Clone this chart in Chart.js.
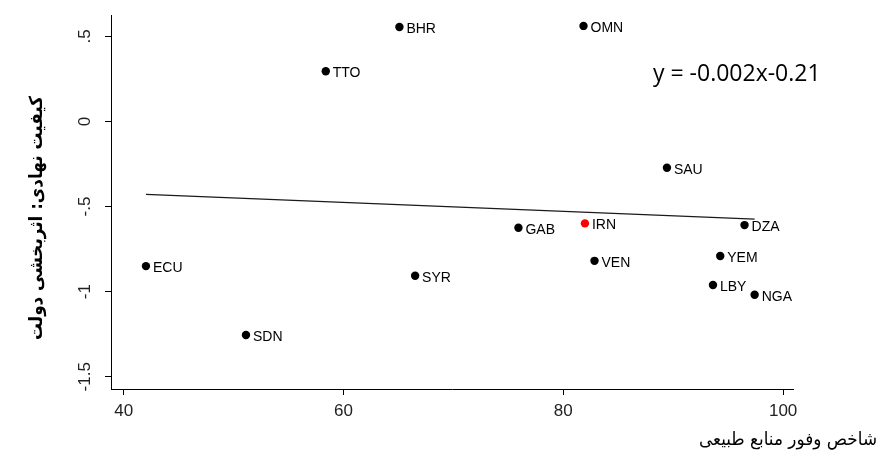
<!DOCTYPE html>
<html>
<head>
<meta charset="utf-8">
<script src="https://cdn.jsdelivr.net/npm/chart.js@4"></script>
<style>
html, body { margin: 0; padding: 0; background: #fff; }
</style>
</head>
<body>
<canvas id="scatter" width="881" height="457"></canvas>
<script>
// countries, natural resource abundance index (x) and government effectiveness (y)
var countries = ["BHR", "OMN", "TTO", "SAU", "GAB", "IRN", "DZA", "ECU", "VEN", "YEM", "SYR", "LBY", "NGA", "SDN"];
var resourceIdx = [65.09, 81.84, 58.39, 89.43, 75.92, 81.97, 96.49, 42.03, 82.84, 94.28, 66.52, 93.62, 97.41, 51.13];
var govEffect = [0.555, 0.561, 0.295, -0.272, -0.625, -0.599, -0.609, -0.850, -0.819, -0.791, -0.907, -0.961, -1.018, -1.255];
var highlight = "IRN";

// fitted line, ends
var fitX = [42.03, 97.41];
var fitY = [-0.429, -0.574];

var xTicks = [40, 60, 80, 100];
var yTicks = [-1.5, -1, -0.5, 0, 0.5];
var yTickLabels = ["-1.5", "-1", "-.5", "0", ".5"];

var equation = "y = -0.002x-0.21";
var xTitle = "شاخص وفور منابع طبیعی";
var yTitle = "کیفیت نهادی: اثربخشی دولت";

var points = [];
var colors = [];
for (var i = 0; i < countries.length; i++) {
	points.push({x: resourceIdx[i], y: govEffect[i]});
	if (countries[i] == highlight)
		colors.push("#ff0000");
	else
		colors.push("#000000");
}
var fitLine = [];
for (var j = 0; j < fitX.length; j++)
	fitLine.push({x: fitX[j], y: fitY[j]});

var labelPlugin = {
	id: 'extraText',
	afterDatasetsDraw: function(chart) {
		var c = chart.ctx;
		var meta = chart.getDatasetMeta(0);
		c.save();
		c.fillStyle = "#000";
		c.font = "14px 'Liberation Sans', Arial, sans-serif";
		c.textAlign = "left";
		c.textBaseline = "middle";
		meta.data.forEach(function(el, k) {
			c.fillText(countries[k], el.x + 7, el.y + 2);
		});

		c.font = "23px 'Open Sans', sans-serif";
		c.fillText(equation, 653, 74, 173);

		c.font = "18px 'DejaVu Sans', sans-serif";
		c.textAlign = "right";
		c.fillText(xTitle, 877, 440, 178);

		c.save();
		c.translate(37, 218);
		c.rotate(-Math.PI / 2);
		c.textAlign = "center";
		c.font = "bold 18px 'DejaVu Sans', sans-serif";
		c.fillText(yTitle, 0, 0, 244);
		c.restore();
		c.restore();
	}
};

var ctx = document.getElementById("scatter").getContext('2d');
var chart = new Chart(ctx, {
	type: 'scatter',
	data: {
		datasets: [{
			label: "countries",
			data: points,
			pointRadius: 4.2,
			pointHoverRadius: 4.2,
			pointBackgroundColor: colors,
			pointBorderWidth: 0,
			order: 1
		}, {
			label: "fit",
			data: fitLine,
			showLine: true,
			borderColor: "#1a1a1a",
			borderWidth: 1.2,
			pointRadius: 0,
			order: 2
		}]
	},
	options: {
		responsive: false,
		animation: false,
		devicePixelRatio: 1,
		layout: { padding: { top: 15, right: 88, left: 0, bottom: 0 } },
		plugins: { legend: { display: false }, tooltip: { enabled: false } },
		scales: {
			x: {
				type: 'linear',
				min: 38.85,
				max: 100.9,
				afterBuildTicks: function(s) { s.ticks = xTicks.map(function(v) { return {value: v}; }); },
				afterFit: function(s) { s.height = 68; },
				grid: { drawOnChartArea: false, drawTicks: true, tickLength: 6, tickColor: "#000" },
				border: { color: "#000", width: 1 },
				ticks: {
					color: "#222",
					font: { family: "'Liberation Sans', Arial, sans-serif", size: 17 },
					padding: 6,
					maxRotation: 0
				}
			},
			y: {
				type: 'linear',
				min: -1.572,
				max: 0.624,
				afterBuildTicks: function(s) { s.ticks = yTicks.map(function(v) { return {value: v}; }); },
				afterFit: function(s) { s.width = 111; },
				grid: { drawOnChartArea: false, drawTicks: true, tickLength: 6, tickColor: "#000" },
				border: { color: "#000", width: 1 },
				ticks: {
					color: "#222",
					font: { family: "'Liberation Sans', Arial, sans-serif", size: 17 },
					padding: 5,
					minRotation: 90,
					maxRotation: 90,
					crossAlign: 'center',
					callback: function(v) { return yTickLabels[yTicks.indexOf(v)]; }
				}
			}
		}
	},
	plugins: [labelPlugin]
});
</script>
</body>
</html>
